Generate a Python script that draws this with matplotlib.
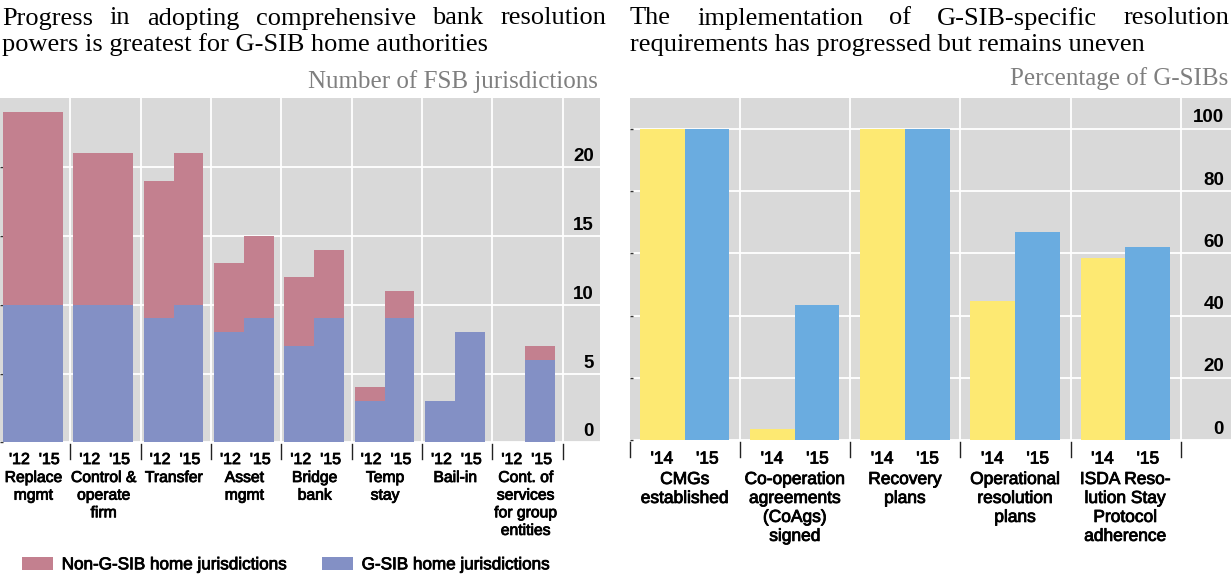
import matplotlib
matplotlib.use("Agg")
import matplotlib.pyplot as plt
import matplotlib.transforms as mtransforms
import matplotlib.patheffects as pe
from matplotlib.patches import Patch
import numpy as np

# ---------------- data ----------------
left_categories = ["Replace\nmgmt", "Control &\noperate\nfirm", "Transfer", "Asset\nmgmt",
                   "Bridge\nbank", "Temp\nstay", "Bail-in", "Cont. of\nservices\nfor group\nentities"]
left_years = ["'12", "'15"]
gsib_12 = [10, 10, 9, 8, 7, 3, 3, 0]
gsib_15 = [10, 10, 10, 9, 9, 9, 8, 6]
non_gsib_12 = [14, 11, 10, 5, 5, 1, 0, 0]
non_gsib_15 = [14, 11, 11, 6, 5, 2, 0, 1]
left_yticks = [0, 5, 10, 15, 20]

right_categories = ["CMGs\nestablished", "Co-operation\nagreements\n(CoAgs)\nsigned", "Recovery\nplans",
                    "Operational\nresolution\nplans", "ISDA Reso-\nlution Stay\nProtocol\nadherence"]
right_years = ["'14", "'15"]
pct_14 = [100, 3.4, 100, 44.8, 58.6]
pct_15 = [100, 43.3, 100, 66.7, 62.1]
right_yticks = [0, 20, 40, 60, 80, 100]

left_title = ["Progress in adopting comprehensive bank resolution",
              "powers is greatest for G-SIB home authorities"]
right_title = ["The implementation of G-SIB-specific resolution",
               "requirements has progressed but remains uneven"]
left_unit = "Number of FSB jurisdictions"
right_unit = "Percentage of G-SIBs"
legend_labels = ["Non-G-SIB home jurisdictions", "G-SIB home jurisdictions"]

# ---------------- style ----------------
PINK = "#C3808F"
PURPLE = "#8390C5"
YELLOW = "#FDE972"
BLUE = "#6AACE0"
BG = "#D9D9D9"
SANS = ["Liberation Sans", "DejaVu Sans"]
SERIF = ["Liberation Serif", "DejaVu Serif"]
HEAVY = [pe.withStroke(linewidth=0.6, foreground="black")]

W, H = 1232, 578
fig = plt.figure(figsize=(W / 100, H / 100), dpi=100)


def fx(p):
    return p / W


def fy(p):
    return 1 - p / H


ax1 = fig.add_axes([fx(0), fy(442.3), 600 / W, 344 / H])
ax2 = fig.add_axes([fx(630), fy(440), 600.7 / W, 342.3 / H])

# ---------------- left chart ----------------
xl = np.arange(len(left_categories))
bw = 0.425
ax1.bar(xl - 0.245, gsib_12, bw, color=PURPLE, linewidth=0)
ax1.bar(xl - 0.245, non_gsib_12, bw, bottom=gsib_12, color=PINK, linewidth=0)
ax1.bar(xl + 0.18, gsib_15, bw, color=PURPLE, linewidth=0)
ax1.bar(xl + 0.18, non_gsib_15, bw, bottom=gsib_15, color=PINK, linewidth=0)
ax1.set_xlim(-0.5, 8.03)
ax1.set_ylim(0, 25)

# ---------------- right chart ----------------
xr = np.arange(len(right_categories))
bw2 = 0.405
ax2.bar(xr - 0.206, pct_14, bw2, color=YELLOW, linewidth=0)
ax2.bar(xr + 0.199, pct_15, bw2, color=BLUE, linewidth=0)
ax2.set_xlim(-0.5, 4.954)
ax2.set_ylim(0, 110)


def style_axis(ax, n, yticks, years, ypad_pts, yoff_px, xpad_pts, xoffs, fs_year):
    ax.set_facecolor(BG)
    for s in ax.spines.values():
        s.set_visible(False)
    ax.set_axisbelow(True)
    xs = np.arange(n)
    pos = np.concatenate([xs + xoffs[0], xs + xoffs[1]])
    labs = [years[0]] * n + [years[1]] * n
    ax.set_xticks(pos)
    ax.set_xticklabels(labs, fontsize=fs_year, family=SANS, color="black")
    ax.set_xticks(np.arange(n) + 0.5, minor=True)
    ax.tick_params(axis="x", which="both", length=0, pad=xpad_pts)
    for lbl in ax.get_xticklabels():
        lbl.set_path_effects(HEAVY)
    ax.grid(which="minor", axis="x", color="white", linewidth=1.3)
    ax.grid(which="major", axis="x", visible=False)
    ax.set_yticks(yticks)
    ax.grid(which="major", axis="y", color="white", linewidth=1.3)
    ax.tick_params(axis="y", which="major", left=True, right=False, labelleft=False,
                   labelright=True, direction="in", length=2.5, width=1, color="#333333",
                   pad=ypad_pts)
    off = mtransforms.ScaledTranslation(0, yoff_px / 100, fig.dpi_scale_trans)
    for lbl in ax.get_yticklabels():
        lbl.set_ha("right")
        lbl.set_fontsize(13.5)
        lbl.set_fontweight("bold")
        lbl.set_family(SANS)
        lbl.set_transform(lbl.get_transform() + off)


style_axis(ax1, len(left_categories), left_yticks, left_years, -4.3, 12.4, 7.0,
           (-0.225, 0.20), 11.5)
style_axis(ax2, len(right_categories), right_yticks, right_years, -4.8, 13.0, 8.3,
           (-0.21, 0.203), 12.5)

# category labels and separators below the axes
bl1 = mtransforms.blended_transform_factory(ax1.transData, fig.transFigure)
for i, lab in enumerate(left_categories):
    ax1.text(i - 0.025, fy(470), lab, transform=bl1, ha="center", va="top",
             fontsize=11.3, family=SANS, linespacing=1.22, clip_on=False,
             path_effects=HEAVY)
for b in np.arange(len(left_categories)) + 0.5:
    ax1.plot([b, b], [fy(444), fy(459)], transform=bl1, color="#222222", lw=1, clip_on=False)

bl2 = mtransforms.blended_transform_factory(ax2.transData, fig.transFigure)
for i, lab in enumerate(right_categories):
    ax2.text(i - 0.003, fy(472), lab, transform=bl2, ha="center", va="top",
             fontsize=12.5, family=SANS, linespacing=1.33, clip_on=False,
             path_effects=HEAVY)
for b in np.arange(-0.5, len(right_categories), 1.0):
    ax2.plot([b, b], [fy(442), fy(457)], transform=bl2, color="#222222", lw=1, clip_on=False)

# ---------------- titles ----------------
renderer = fig.canvas.get_renderer()


def justify(line, x0, x1, ybase, **kw):
    words = line.split()
    texts = [fig.text(0, fy(ybase), w, ha="left", va="baseline", **kw) for w in words]
    widths = [t.get_window_extent(renderer).width for t in texts]
    gap = (x1 - x0 - sum(widths)) / (len(words) - 1)
    x = x0
    for t, wd in zip(texts, widths):
        t.set_x(fx(x))
        x += wd + gap


tkw = dict(fontsize=19, family=SERIF, color="black")
justify(left_title[0], 2, 606, 24.5, **tkw)
fig.text(fx(2), fy(50.5), left_title[1], ha="left", va="baseline", **tkw)
justify(right_title[0], 630, 1229, 24.5, **tkw)
fig.text(fx(630), fy(50.5), right_title[1], ha="left", va="baseline", **tkw)

fig.text(fx(598), fy(88.3), left_unit, ha="right", va="baseline", fontsize=18,
         family=SERIF, color="#7F7F7F")
fig.text(fx(1228), fy(85), right_unit, ha="right", va="baseline", fontsize=18,
         family=SERIF, color="#7F7F7F")

# ---------------- legend ----------------
handles = [Patch(facecolor=PINK, edgecolor="none"), Patch(facecolor=PURPLE, edgecolor="none")]
fs_leg = 12.3
px_per_em = fs_leg * 100 / 72
leg = fig.legend(handles, legend_labels, loc="center left", bbox_to_anchor=(fx(22.3), fy(564.7)),
                 ncol=2, frameon=False, borderpad=0, borderaxespad=0,
                 handlelength=30.4 / px_per_em, handleheight=12.7 / px_per_em,
                 handletextpad=9 / px_per_em, columnspacing=34.7 / px_per_em,
                 prop={"family": SANS, "size": fs_leg})
for t in leg.get_texts():
    t.set_path_effects(HEAVY)

fig.savefig("out.png", dpi=100)
